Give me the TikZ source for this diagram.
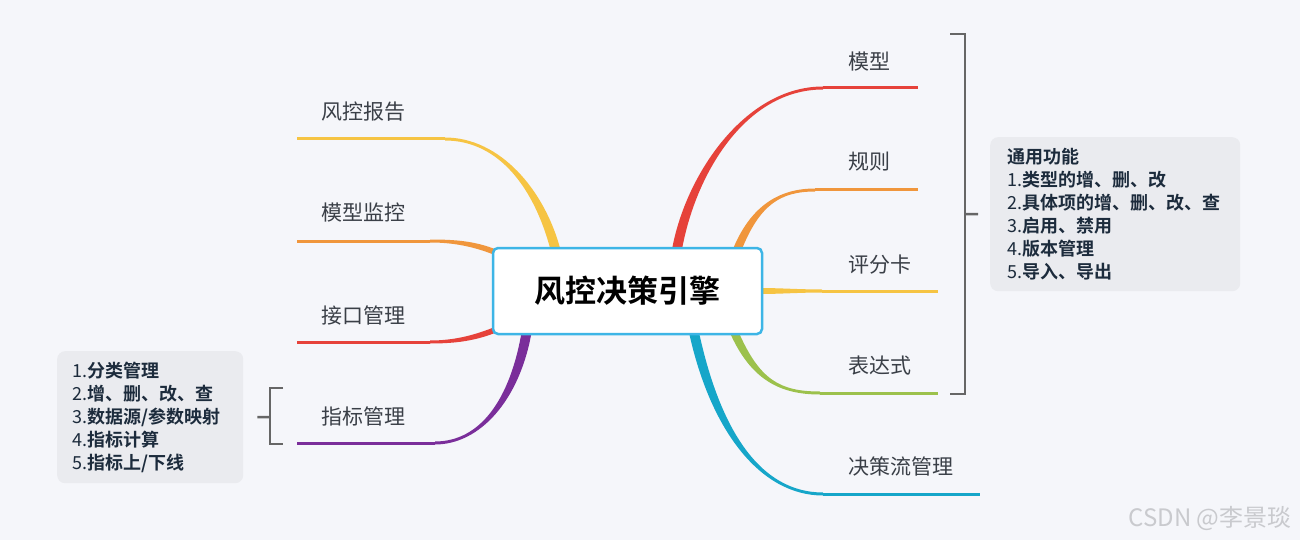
\documentclass[tikz,border=0pt]{standalone}
\usepackage{fontspec}
\setmainfont{Noto Sans CJK SC}[BoldFont={Noto Sans CJK SC Bold}]
\usetikzlibrary{calc,backgrounds}
\definecolor{bgc}{HTML}{F5F6FA}
\definecolor{cred}{HTML}{E6423A}
\definecolor{corange}{HTML}{F0963C}
\definecolor{cyellow}{HTML}{F6C443}
\definecolor{cgreen}{HTML}{9CC14C}
\definecolor{cblue}{HTML}{16A6C9}
\definecolor{cpurple}{HTML}{7A2E9A}
\definecolor{rootline}{HTML}{3DB5E6}
\definecolor{infofill}{HTML}{EAEBEF}
\definecolor{infotext}{HTML}{1C2B3C}
\definecolor{labeltext}{HTML}{3A3F47}
\definecolor{brk}{HTML}{666666}
\definecolor{wm}{HTML}{C9CACE}
% color, start, c1, c2, end, start half-width vector, end half-width vector, line end
\newcommand\taper[8]{%
  \fill[#1] ($#2+#6$) .. controls ($#3+#6$) and ($#4+#7$) .. ($#5+#7$) -- ($#5-#7$) .. controls ($#4-#7$) and ($#3-#6$) .. ($#2-#6$) -- cycle;
  \draw[#1,line width=3] #5 -- #8;}
\tikzset{
  rootbox/.style={draw=rootline,line width=2.5,fill=white,rounded corners=5,minimum width=269,minimum height=86,inner sep=0,font=\fontsize{31}{36}\selectfont\bfseries},
  lbl/.style={anchor=west,inner sep=0,text=labeltext,font=\fontsize{21}{25}\selectfont},
  infobox/.style={fill=infofill,rounded corners=8,anchor=north west,align=left,inner ysep=0,text=infotext,font=\fontsize{18}{23}\selectfont},
  bracketline/.style={draw=brk,line width=2.5}
}
\begin{document}
\begin{tikzpicture}[x=1pt,y=-1pt]
\useasboundingbox (0,0) rectangle (1300,540);
\begin{pgfonlayer}{background}
\fill[bgc] (0,0) rectangle (1300,540);
\end{pgfonlayer}

\node[rootbox] (root) at (627.5,291) {风控决策引擎};

% labels
\node[lbl] (mx) at (848,62) {模型};
\node[lbl] (gz) at (848,162) {规则};
\node[lbl] (pfk) at (848,265) {评分卡};
\node[lbl] (bds) at (848,366) {表达式};
\node[lbl] (jcl) at (848,466) {决策流管理};
\node[lbl] (fkbg) at (321,112) {风控报告};
\node[lbl] (mxjk) at (321,213) {模型监控};
\node[lbl] (jkgl) at (321,315) {接口管理};
\node[lbl] (zbgl) at (321,416) {指标管理};

% underline end points
\coordinate (e1) at (823,88);  \coordinate (h1) at (918,88);
\coordinate (e2) at (815,190); \coordinate (h2) at (918,190);
\coordinate (e3) at (822,291); \coordinate (h3) at (938,291);
\coordinate (e4) at (820,393); \coordinate (h4) at (938,393);
\coordinate (e5) at (823,494); \coordinate (h5) at (980,494);
\coordinate (e6) at (445,139); \coordinate (h6) at (297,139);
\coordinate (e7) at (430,241); \coordinate (h7) at (297,241);
\coordinate (e8) at (430,342); \coordinate (h8) at (297,342);
\coordinate (e9) at (435,443); \coordinate (h9) at (297,443);

\begin{pgfonlayer}{background}
\coordinate (s1) at ($(root.north west)+(185,4)$);
\coordinate (s2) at ($(root.north west)+(245,4)$);
\coordinate (s3) at ($(root.east)+(-4,0)$);
\coordinate (s4) at ($(root.south west)+(242,-4)$);
\coordinate (s5) at ($(root.south west)+(202,-4)$);
\coordinate (s6) at ($(root.north west)+(64,4)$);
\coordinate (s7) at ($(root.north west)+(5,6)$);
\coordinate (s8) at ($(root.south west)+(5,-6)$);
\coordinate (s9) at ($(root.south west)+(35,-4)$);
\taper{cred}{(s1)}{(690,175)}{(745,88)}{(e1)}{(5,0)}{(0,1.5)}{(h1)}
\taper{corange}{(s2)}{(755,205)}{(780,190)}{(e2)}{(4.5,0)}{(0,1.5)}{(h2)}
\taper{cyellow}{(s3)}{(780,291)}{(800,291)}{(e3)}{(0,3)}{(0,1.5)}{(h3)}
\taper{cgreen}{(s4)}{(755,380)}{(780,393)}{(e4)}{(4.5,0)}{(0,-1.5)}{(h4)}
\taper{cblue}{(s5)}{(715,430)}{(760,494)}{(e5)}{(5,0)}{(0,-1.5)}{(h5)}
\taper{cyellow}{(s6)}{(540,190)}{(500,139)}{(e6)}{(5,0)}{(0,-1.5)}{(h6)}
\taper{corange}{(s7)}{(475,244)}{(455,241)}{(e7)}{(0,3)}{(0,1.5)}{(h7)}
\taper{cred}{(s8)}{(475,338)}{(455,342)}{(e8)}{(0,3)}{(0,1.5)}{(h8)}
\taper{cpurple}{(s9)}{(515,400)}{(480,443)}{(e9)}{(5,0)}{(0,1.5)}{(h9)}
\end{pgfonlayer}

% info boxes
\node[infobox,minimum width=250,minimum height=154,text width=216,inner xsep=17] (gen) at (990,137)
 {\textbf{通用功能}\\1.\textbf{类型的增、删、改}\\2.\textbf{具体项的增、删、改、查}\\3.\textbf{启用、禁用}\\4.\textbf{版本管理}\\5.\textbf{导入、导出}};
\node[infobox,minimum width=186,minimum height=132,text width=156,inner xsep=15] (zbinfo) at (57,351)
 {1.\textbf{分类管理}\\2.\textbf{增、删、改、查}\\3.\textbf{数据源/参数映射}\\4.\textbf{指标计算}\\5.\textbf{指标上/下线}};

% brackets
\coordinate (rbt) at (965,34); \coordinate (rbb) at (965,394); \coordinate (rbm) at (965,214);
\draw[bracketline] ($(rbt)+(-15,0)$) -- (rbt) -- (rbb) -- ($(rbb)+(-15,0)$);
\draw[bracketline] (rbm) -- ($(gen.west)+(-12,0)$);
\coordinate (lbt) at (270,388); \coordinate (lbb) at (270,444); \coordinate (lbm) at (270,417);
\draw[bracketline] ($(lbt)+(13,0)$) -- (lbt) -- (lbb) -- ($(lbb)+(13,0)$);
\draw[bracketline] (lbm) -- ($(zbinfo.east)+(14,0)$);

% watermark
\node[text=wm,font=\fontsize{24}{28}\selectfont,inner sep=0] (wmk) at (1210,518) {CSDN @李景琰};
\end{tikzpicture}
\end{document}
